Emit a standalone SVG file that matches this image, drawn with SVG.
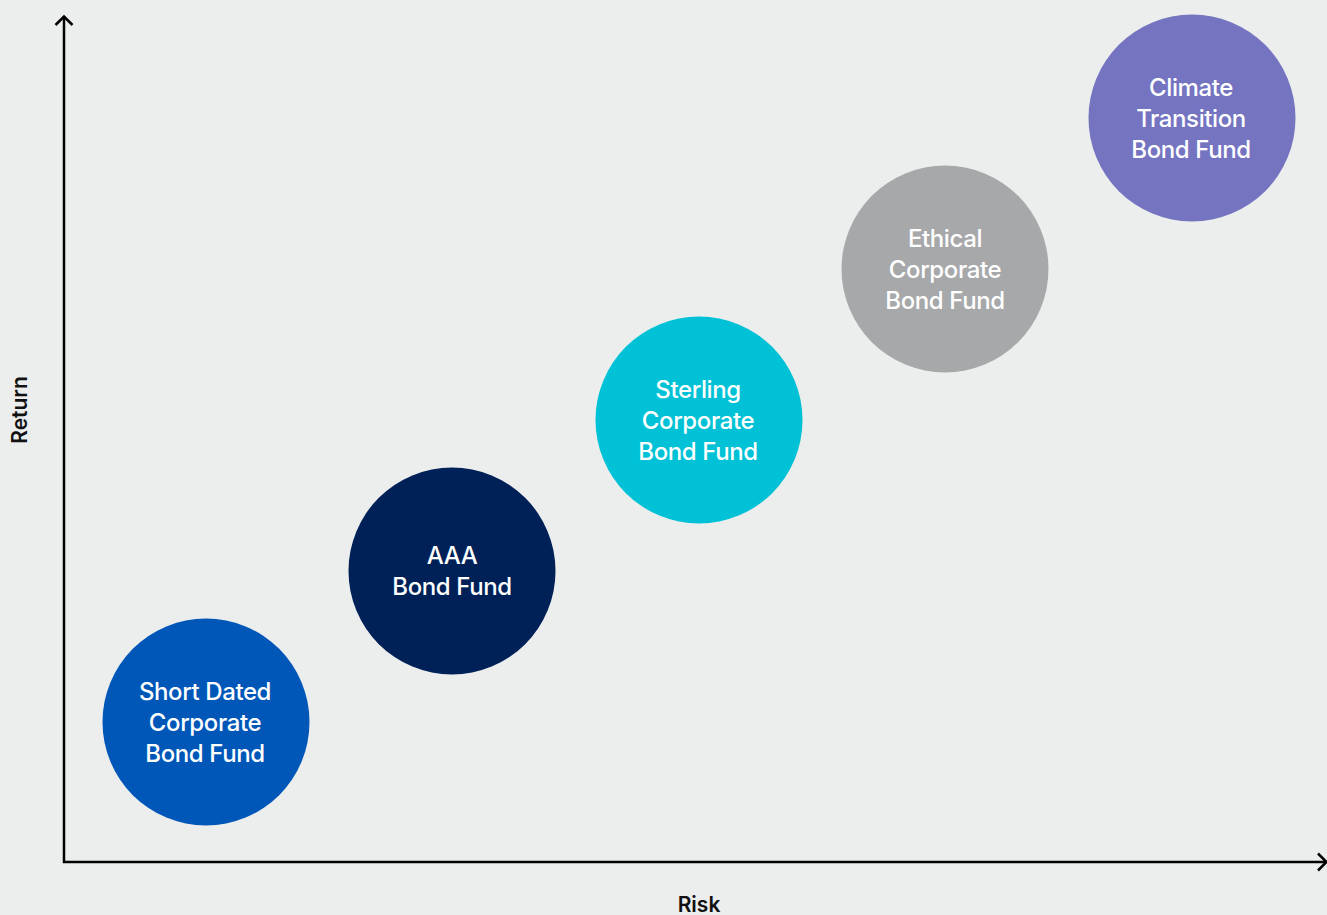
<svg xmlns="http://www.w3.org/2000/svg" width="1327" height="915" viewBox="0 0 1327 915">
<style>
.bg{fill:#eceeee}
.axis{stroke:#000;stroke-width:2.5;fill:none}
.lbl{font-family:Inter,"Liberation Sans",sans-serif;font-size:21px;fill:#111;font-weight:600;text-anchor:middle}
.t{font-family:Inter,"Liberation Sans",sans-serif;font-size:24px;fill:#fff;font-weight:500;text-anchor:middle;letter-spacing:-0.4px}
</style>
<rect class="bg" x="0" y="0" width="1327" height="915"/>
<g id="axes">
<path class="axis" d="M64,16 V862 H1327"/>
<path class="axis" d="M55.5,25 L64,16.5 L72.5,25"/>
<path class="axis" d="M1318,853.5 L1326.5,862 L1318,870.5"/>
<text class="lbl" x="699" y="912">Risk</text>
<text class="lbl" transform="translate(27,410) rotate(-90)">Return</text>
</g>
<g id="n1"><circle cx="206" cy="722" r="103.5" fill="#0057b8"/>
<text class="t" x="205" y="700">Short Dated</text><text class="t" x="205" y="731">Corporate</text><text class="t" x="205" y="762">Bond Fund</text></g>
<g id="n2"><circle cx="452" cy="571" r="103.5" fill="#002157"/>
<text class="t" x="452" y="564">AAA</text><text class="t" x="452" y="595">Bond Fund</text></g>
<g id="n3"><circle cx="699" cy="420" r="103.5" fill="#00c1d5"/>
<text class="t" x="698" y="398">Sterling</text><text class="t" x="698" y="429">Corporate</text><text class="t" x="698" y="460">Bond Fund</text></g>
<g id="n4"><circle cx="945" cy="269" r="103.5" fill="#a7a8aa"/>
<text class="t" x="945" y="247">Ethical</text><text class="t" x="945" y="278">Corporate</text><text class="t" x="945" y="309">Bond Fund</text></g>
<g id="n5"><circle cx="1192" cy="118" r="103.5" fill="#7474c1"/>
<text class="t" x="1191" y="96">Climate</text><text class="t" x="1191" y="127">Transition</text><text class="t" x="1191" y="158">Bond Fund</text></g>
</svg>
